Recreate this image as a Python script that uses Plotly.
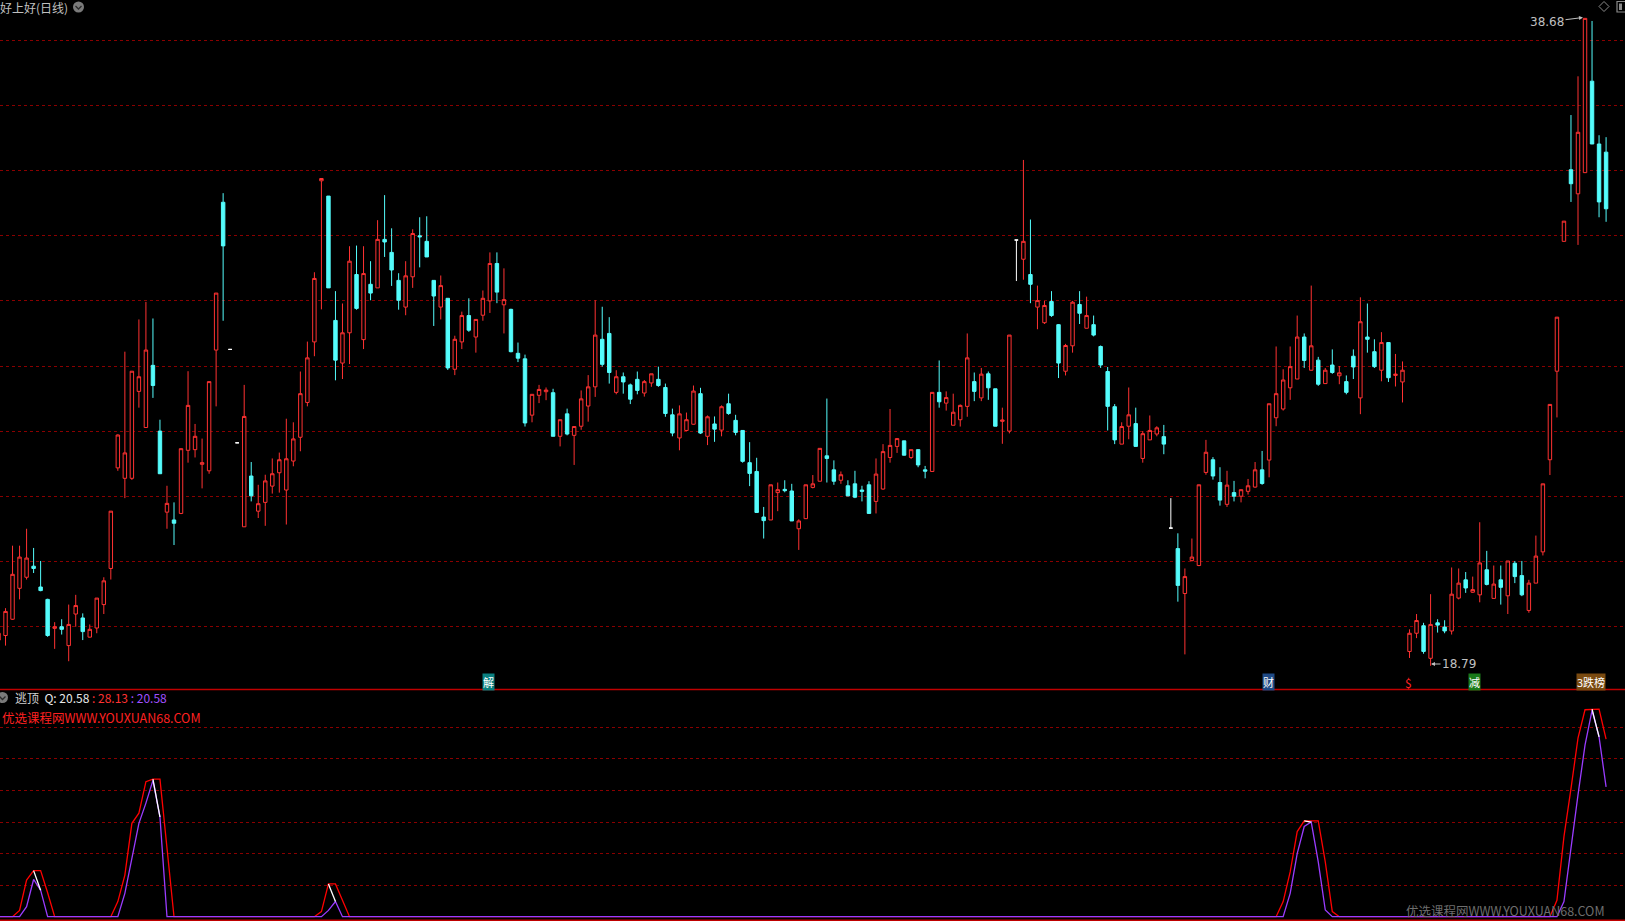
import plotly.graph_objects as go

W, H = 1625, 921

# ---------------- candle data (daily) ----------------
kinds = ("rrrrrcccrc" "rrcrrrrrrr" "rrccrcrrrr" "rrcwwrcrrr" "rrrrrrrccr"
         "rcrcrcccrr" "cccrcrrcrr" "rcrcccrrrc" "rcrrrrccrc" "ccrrcccrrr"
         "crcrcccccc" "rrccrrrrcc" "rccccrrrrc" "rccrcrrrrc" "rccrrwrcrr"
         "ccrrcrcccc" "rrcrrrcwcr" "rrrccrcrrr" "crrrrrcrcr" "crccrccrcr"
         "rrrcrccrrc" "rrcrcrccrr" "rrrrcrrccc")

opens = [
    19.58, 19.72, 20.22, 21.17, 21.51, 21.85, 21.21, 20.83, 19.94, 19.99,
    19.41, 20.38, 20.26, 19.67, 19.95, 20.67, 21.78, 24.87, 24.55, 24.55,
    27.22, 26.11, 28.02, 26.00, 23.51, 23.27, 23.47, 25.41, 25.43, 24.98,
    24.78, 28.49, 33.03, 28.51, 25.64, 23.06, 24.62, 23.54, 23.81, 24.31,
    24.72, 24.19, 25.08, 25.81, 26.88, 28.74, 33.69, 33.22, 29.40, 28.09,
    29.02, 30.81, 28.81, 30.51, 30.40, 31.89, 31.49, 30.63, 29.81, 30.74,
    32.00, 31.83, 30.63, 29.81, 30.08, 27.90, 28.74, 29.55, 28.89, 29.56,
    30.00, 31.15, 29.88, 29.74, 28.39, 28.22, 26.49, 27.10, 27.21, 27.18,
    25.84, 26.53, 25.87, 26.15, 26.77, 27.36, 28.82, 29.00, 27.19, 27.67,
    27.42, 27.59, 27.17, 27.48, 27.59, 27.34, 26.50, 25.79, 26.02, 26.21,
    27.15, 25.84, 26.22, 26.03, 26.84, 26.33, 26.02, 25.03, 24.76, 23.36,
    23.27, 24.11, 24.21, 24.16, 23.00, 23.31, 24.27, 24.46, 25.24, 24.81,
    24.49, 24.32, 24.38, 24.19, 24.35, 23.84, 24.22, 25.19, 25.53, 25.70,
    25.19, 25.43, 24.81, 24.76, 27.19, 26.86, 26.18, 26.35, 26.76, 27.52,
    27.02, 27.76, 27.30, 26.30, 26.00, 31.87, 31.28, 30.81, 29.81, 29.33,
    29.98, 29.27, 27.84, 28.62, 29.89, 29.16, 29.27, 28.60, 27.83, 26.75,
    25.60, 26.15, 26.23, 25.16, 25.73, 25.91, 25.83, 23.02, 22.39, 21.01,
    22.02, 21.87, 24.73, 25.12, 24.42, 23.75, 24.11, 24.00, 24.15, 24.28,
    24.81, 25.11, 26.41, 26.68, 27.33, 27.60, 28.89, 27.87, 28.18, 27.46,
    28.03, 27.70, 27.52, 28.30, 27.02, 28.89, 28.44, 27.87, 28.72, 27.71,
    27.51, 19.23, 19.79, 20.02, 19.02, 20.11, 19.98, 19.86, 20.87, 21.43,
    21.05, 20.97, 21.74, 20.86, 21.43, 20.94, 21.94, 21.56, 20.49, 21.33,
    22.29, 25.12, 27.84, 31.83, 34.03, 33.29, 33.94, 36.75, 34.82, 34.57,
]
highs = [
    19.80, 20.56, 22.48, 22.48, 23.00, 22.41, 22.01, 20.85, 20.13, 20.22,
    20.67, 20.97, 20.40, 20.06, 20.87, 21.51, 23.54, 25.90, 28.44, 27.84,
    29.43, 29.97, 29.46, 26.35, 24.32, 23.81, 25.46, 27.84, 26.22, 25.77,
    27.52, 30.24, 33.31, 28.51, 25.64, 27.42, 25.05, 24.35, 24.66, 25.16,
    25.34, 26.38, 26.27, 27.83, 28.75, 30.88, 33.76, 33.22, 30.30, 29.92,
    31.68, 31.70, 31.68, 31.22, 32.48, 33.25, 32.23, 30.85, 31.22, 32.20,
    32.57, 32.60, 30.63, 30.78, 30.08, 28.93, 29.67, 30.08, 29.43, 30.32,
    31.49, 31.49, 31.00, 29.76, 28.72, 28.35, 27.13, 27.42, 27.34, 27.30,
    26.35, 26.69, 26.14, 27.25, 27.72, 30.02, 29.82, 29.50, 27.87, 27.80,
    27.46, 27.83, 27.57, 27.76, 27.98, 27.46, 26.69, 26.79, 26.57, 27.40,
    27.33, 26.48, 26.45, 26.79, 27.15, 26.50, 26.02, 25.66, 25.18, 23.67,
    24.35, 24.42, 24.49, 24.38, 23.29, 24.35, 24.65, 25.47, 27.00, 25.10,
    24.76, 24.49, 24.78, 24.32, 24.46, 25.16, 25.60, 26.68, 25.77, 25.70,
    25.43, 25.43, 24.93, 27.19, 28.17, 27.22, 27.15, 26.82, 29.00, 27.80,
    27.94, 27.83, 27.30, 26.72, 28.95, 31.87, 34.33, 32.50, 30.47, 30.00,
    30.30, 29.29, 28.68, 30.00, 30.30, 30.13, 29.55, 28.63, 27.97, 26.83,
    26.27, 27.34, 26.72, 26.00, 26.48, 26.15, 26.19, 23.94, 22.86, 21.78,
    22.70, 24.35, 25.73, 25.20, 24.89, 24.78, 24.47, 24.20, 24.53, 25.05,
    25.39, 26.84, 28.60, 27.90, 28.60, 29.55, 29.00, 30.47, 28.28, 27.94,
    28.51, 28.00, 27.71, 28.51, 30.11, 29.92, 28.82, 29.04, 28.72, 28.37,
    28.14, 19.91, 20.38, 20.11, 20.99, 20.22, 20.19, 21.81, 21.78, 21.67,
    21.53, 23.20, 22.32, 21.87, 21.87, 22.01, 22.01, 22.01, 21.43, 22.79,
    24.38, 26.82, 29.50, 32.45, 35.71, 36.90, 38.68, 38.60, 35.09, 35.03,
]
lows = [
    19.55, 19.41, 20.20, 20.83, 21.44, 21.64, 21.08, 19.68, 19.31, 19.75,
    18.93, 19.99, 19.58, 19.66, 19.79, 20.38, 21.44, 24.78, 23.94, 24.50,
    26.72, 26.10, 27.02, 24.69, 23.00, 22.50, 23.45, 25.03, 25.19, 24.24,
    24.69, 26.76, 29.39, 28.51, 25.64, 23.06, 23.84, 23.33, 23.09, 24.08,
    24.11, 23.13, 24.92, 25.38, 26.76, 28.30, 29.74, 30.40, 27.56, 27.60,
    28.06, 29.73, 28.52, 30.02, 30.40, 31.35, 30.46, 29.73, 29.56, 30.40,
    31.03, 31.35, 29.23, 29.43, 27.88, 27.72, 28.52, 29.05, 28.41, 29.39,
    29.63, 29.93, 29.00, 28.42, 28.12, 26.14, 26.27, 26.86, 26.95, 25.84,
    25.53, 25.87, 24.96, 26.04, 26.29, 27.05, 27.98, 27.46, 27.13, 27.15,
    26.83, 27.13, 27.06, 27.36, 27.36, 26.44, 25.84, 25.41, 26.00, 26.20,
    25.91, 25.57, 25.67, 25.84, 26.50, 25.87, 25.03, 24.31, 23.50, 22.70,
    23.27, 23.54, 24.12, 23.24, 22.35, 23.30, 24.24, 24.46, 24.42, 24.35,
    24.38, 24.00, 23.94, 23.84, 23.47, 23.47, 24.20, 25.03, 25.33, 25.25,
    25.14, 24.89, 24.55, 24.76, 26.72, 26.63, 26.18, 26.14, 26.44, 26.92,
    26.92, 26.96, 26.15, 25.61, 25.93, 30.61, 30.65, 29.93, 29.13, 29.29,
    29.51, 27.63, 27.71, 28.41, 29.29, 29.16, 28.91, 27.94, 26.02, 25.60,
    25.60, 25.75, 25.53, 25.03, 25.73, 25.84, 25.29, 23.02, 20.76, 19.14,
    22.00, 21.85, 24.66, 24.51, 23.71, 23.67, 23.84, 23.81, 24.05, 24.26,
    24.35, 24.58, 26.15, 26.63, 26.96, 27.60, 27.94, 27.86, 27.39, 27.46,
    27.76, 27.44, 27.13, 27.60, 26.52, 28.41, 27.94, 27.53, 27.51, 27.37,
    26.88, 19.03, 19.64, 19.16, 18.79, 19.81, 19.79, 19.75, 20.83, 21.03,
    21.03, 20.74, 21.26, 20.86, 20.67, 20.38, 21.33, 20.93, 20.42, 21.33,
    22.18, 24.65, 26.42, 31.83, 33.04, 31.72, 33.94, 34.82, 32.57, 32.43,
]
closes = [
    19.79, 20.46, 21.60, 22.13, 22.10, 21.78, 21.10, 19.72, 19.99, 19.91,
    20.06, 20.64, 19.84, 19.91, 20.87, 21.40, 23.54, 25.88, 25.33, 27.84,
    27.67, 28.49, 27.40, 24.69, 23.78, 23.17, 25.46, 26.79, 25.84, 25.03,
    27.52, 30.24, 31.69, 28.51, 25.64, 26.45, 24.01, 23.77, 24.47, 24.69,
    25.12, 25.15, 25.76, 27.15, 28.25, 30.69, 33.76, 30.40, 28.18, 29.02,
    31.22, 29.77, 30.84, 30.24, 31.89, 31.81, 30.95, 30.02, 30.77, 32.07,
    31.97, 31.35, 30.15, 30.47, 27.94, 28.82, 29.55, 29.10, 29.43, 30.08,
    31.15, 30.27, 30.04, 28.44, 28.24, 26.25, 27.13, 27.28, 27.26, 25.84,
    26.35, 25.91, 26.14, 26.99, 27.36, 28.95, 28.05, 27.80, 27.67, 27.51,
    26.98, 27.25, 27.52, 27.76, 27.40, 26.54, 25.94, 26.53, 26.35, 27.23,
    25.94, 26.44, 26.06, 26.75, 26.54, 25.96, 25.07, 24.70, 23.50, 23.25,
    24.35, 24.20, 24.17, 23.24, 23.24, 24.35, 24.38, 25.47, 25.16, 24.46,
    24.66, 24.01, 23.97, 24.15, 23.47, 24.68, 25.37, 25.56, 25.77, 25.26,
    25.43, 24.96, 24.77, 27.19, 26.90, 27.03, 26.58, 26.79, 28.25, 27.22,
    27.75, 27.33, 26.15, 26.34, 28.95, 31.87, 31.83, 30.51, 30.01, 29.86,
    29.55, 28.09, 28.63, 29.96, 29.62, 29.55, 28.95, 28.03, 26.76, 25.73,
    26.14, 26.50, 25.53, 25.92, 26.02, 26.10, 25.60, 23.02, 21.26, 21.53,
    22.13, 24.35, 25.35, 24.62, 23.88, 24.34, 24.00, 24.20, 24.32, 24.81,
    24.39, 26.84, 27.15, 27.57, 27.98, 28.89, 28.17, 28.62, 27.44, 27.87,
    27.80, 27.79, 27.19, 27.97, 29.36, 28.82, 27.98, 28.72, 27.64, 27.75,
    27.87, 19.79, 20.18, 19.23, 20.06, 20.04, 19.86, 20.99, 21.33, 21.18,
    21.13, 21.95, 21.29, 21.30, 21.20, 22.01, 21.53, 20.97, 21.33, 22.16,
    24.38, 26.82, 29.50, 32.45, 33.60, 35.18, 38.68, 34.82, 33.04, 32.83,
]

# ---------------- indicator (逃顶) values, non-zero bars ----------------
red_nonzero = {
    3: 1.0, 4: 5.8, 5: 7.3, 6: 7.3, 7: 3.8,
    17: 2.4, 18: 6.6, 19: 14.8, 20: 16.4, 21: 21.4, 22: 21.8, 23: 21.8, 24: 11.1,
    46: 0.8, 47: 5.2, 48: 5.2, 49: 2.6,
    183: 2.4, 184: 7.1, 185: 13.5, 186: 15.2, 187: 15.2, 188: 15.2, 189: 8.7, 190: 0.8,
    222: 2.6, 223: 12.7, 224: 20.3, 225: 28.3, 226: 32.8, 227: 32.9, 228: 32.9, 229: 28.13,
}
purple_nonzero = {
    4: 1.6, 5: 5.9, 6: 4.2,
    18: 3.7, 19: 9.0, 20: 14.8, 21: 18.0, 22: 21.6, 23: 15.8,
    47: 1.0, 48: 2.4,
    184: 3.7, 185: 10.0, 186: 14.3, 187: 15.0, 188: 8.7, 189: 1.06,
    223: 2.4, 224: 11.1, 225: 19.3, 226: 27.2, 227: 32.7, 228: 28.5, 229: 20.58,
}
q_peaks = [5, 22, 47, 186, 227]

main_grid = [20, 22, 24, 26, 28, 30, 32, 34, 36, 38]
ind_grid = [5, 10, 15, 20, 25, 30]

N = len(opens)
idx = list(range(N))
red_vals = [red_nonzero.get(i, 0.0) for i in idx]
purple_vals = [purple_nonzero.get(i, 0.0) for i in idx]

# ---------------- layout helpers ----------------
SP, X0 = 7.02, -1.5          # px per bar, px of bar 0
def px(p):
    return p / W
def py(p):
    return 1 - p / H

RED = "#ff3232"
CYAN = "#54fcfc"
WHITE = "#ffffff"

fig = go.Figure()

styles = {"r": (RED, "rgba(0,0,0,1)"), "c": (CYAN, CYAN), "w": (WHITE, WHITE)}
for k, (lc, fc) in styles.items():
    sel = [i for i in idx if kinds[i] == k]
    side = dict(line=dict(color=lc, width=1), fillcolor=fc)
    fig.add_trace(go.Candlestick(
        x=sel,
        open=[opens[i] for i in sel], high=[highs[i] for i in sel],
        low=[lows[i] for i in sel], close=[closes[i] for i in sel],
        increasing=side, decreasing=side, whiskerwidth=0,
        hoverinfo="skip", showlegend=False, xaxis="x", yaxis="y"))

# indicator lines
fig.add_trace(go.Scatter(x=idx, y=red_vals, mode="lines",
                         line=dict(color="#ff0000", width=1.3),
                         hoverinfo="skip", showlegend=False, xaxis="x2", yaxis="y2"))
fig.add_trace(go.Scatter(x=idx, y=purple_vals, mode="lines",
                         line=dict(color="#9a3cff", width=1.3),
                         hoverinfo="skip", showlegend=False, xaxis="x2", yaxis="y2"))
qx, qy = [], []
for p in q_peaks:
    qx += [p, p + 1, None]
    qy += [red_vals[p], purple_vals[p + 1], None]
fig.add_trace(go.Scatter(x=qx, y=qy, mode="lines",
                         line=dict(color="#ffffff", width=1.3),
                         hoverinfo="skip", showlegend=False, xaxis="x2", yaxis="y2"))

xr = [(0 - X0) / SP, (W - X0) / SP]
main_top, main_bot = 0, 689
price = lambda y: 38 - 2 * (y - 40.5) / 65.1
ind_val = lambda y: (916.7 - y) / 6.31

GRID = "#8a0000"
fig.update_layout(
    width=W, height=H, margin=dict(l=0, r=0, t=0, b=0),
    paper_bgcolor="#000000", plot_bgcolor="#000000",
    showlegend=False,
    font=dict(family="Noto Sans CJK SC, DejaVu Sans", size=12, color="#c0c0c0"),
    xaxis=dict(domain=[0, 1], range=xr, visible=False, rangeslider=dict(visible=False),
               anchor="y", fixedrange=True),
    xaxis2=dict(domain=[0, 1], range=xr, visible=False, anchor="y2", matches="x"),
    yaxis=dict(domain=[py(main_bot), py(main_top)], range=[price(main_bot), price(main_top)],
               tickvals=main_grid, showticklabels=False, showgrid=True,
               gridcolor=GRID, griddash="dot", gridwidth=1, zeroline=False, anchor="x"),
    yaxis2=dict(domain=[0, py(690)], range=[ind_val(921), ind_val(690)],
                tickvals=ind_grid, showticklabels=False, showgrid=True,
                gridcolor=GRID, griddash="dot", gridwidth=1, zeroline=False, anchor="x2"),
)

shapes = [
    dict(type="line", xref="paper", yref="paper", x0=0, x1=1, y0=py(689.5), y1=py(689.5),
         line=dict(color="#c00000", width=1.5)),
    dict(type="line", xref="paper", yref="paper", x0=0, x1=1, y0=py(920.3), y1=py(920.3),
         line=dict(color="#c00000", width=1.5)),
    # dropdown icons
    dict(type="circle", xref="paper", yref="paper", x0=px(73), x1=px(84), y0=py(12.5), y1=py(1.5),
         fillcolor="#7a7a7a", line=dict(width=0)),
    dict(type="path", xref="paper", yref="paper",
         path=f"M {px(75.5)} {py(6)} L {px(78.5)} {py(9)} L {px(81.5)} {py(6)}",
         line=dict(color="#2a2a2a", width=1.3)),
    dict(type="circle", xref="paper", yref="paper", x0=px(-3), x1=px(8), y0=py(703), y1=py(692),
         fillcolor="#7a7a7a", line=dict(width=0)),
    dict(type="path", xref="paper", yref="paper",
         path=f"M {px(-0.5)} {py(696.5)} L {px(2.5)} {py(699.5)} L {px(5.5)} {py(696.5)}",
         line=dict(color="#2a2a2a", width=1.3)),
    # top-right icons
    dict(type="path", xref="paper", yref="paper",
         path=f"M {px(1604)} {py(1.5)} L {px(1609)} {py(6.5)} L {px(1604)} {py(11.5)} L {px(1599)} {py(6.5)} Z",
         line=dict(color="#8a8a8a", width=1)),
    dict(type="rect", xref="paper", yref="paper", x0=px(1617), x1=px(1627), y0=py(12), y1=py(1.5),
         line=dict(color="#8a8a8a", width=1.2)),
    dict(type="rect", xref="paper", yref="paper", x0=px(1619), x1=px(1622), y0=py(10), y1=py(3.5),
         fillcolor="#8a8a8a", line=dict(width=0)),
]
fig.update_layout(shapes=shapes)

CJK = "Noto Sans CJK SC"
ann = []
def text(x, y, s, color, size=12, xanchor="left", bg=None, font=CJK):
    d = dict(xref="paper", yref="paper", x=px(x), y=py(y), text=s, showarrow=False,
             xanchor=xanchor, yanchor="middle", font=dict(family=font, size=size, color=color))
    if bg:
        d.update(bgcolor=bg, borderpad=0)
    ann.append(d)

text(-2, 7, "好上好(日线)", "#c0c0c0", 12)
text(13, 697,
     "逃顶  <span style='color:#e8e8e8'>Q: 20.58</span> "
     "<span style='color:#ff3232'>: 28.13</span> "
     "<span style='color:#a050ff'>: 20.58</span>", "#d0d0d0", 12)
text(0, 717, "优选课程网WWW.YOUXUAN68.COM", "#ff2020", 12.5)
text(1404, 910, "优选课程网WWW.YOUXUAN68.COM", "#6e6e6e", 12.5)

# bottom signal tags
text(489, 682, "解", "#ffffff", 11, "center", "#0a8080")
text(1268, 682, "财", "#ffffff", 11, "center", "#1f4a86")
text(1408, 682, "$", "#ff2020", 12, "center")
text(1474, 682, "减", "#ffffff", 11, "center", "#1a7a1a")
text(1591, 682, "<span style='background:#800000'>3</span>跌榜", "#ffffff", 11, "center", "#7a4a10")

# extremes
ann.append(dict(xref="paper", yref="paper", x=px(1583), y=py(17.5), ax=-36, ay=4.5,
                text="38.68", showarrow=True, arrowhead=2, arrowsize=0.8, arrowwidth=1,
                arrowcolor="#c0c0c0", standoff=0,
                font=dict(family="DejaVu Sans", size=12, color="#c0c0c0")))
ann.append(dict(xref="paper", yref="paper", x=px(1431), y=py(664), ax=28, ay=0,
                text="18.79", showarrow=True, arrowhead=2, arrowsize=0.8, arrowwidth=1,
                arrowcolor="#c0c0c0", standoff=0,
                font=dict(family="DejaVu Sans", size=12, color="#c0c0c0")))
fig.update_layout(annotations=ann)

fig.write_html("out.html", config={"displayModeBar": False},
               post_script="document.body.style.margin='0px';document.body.style.overflow='hidden';")
